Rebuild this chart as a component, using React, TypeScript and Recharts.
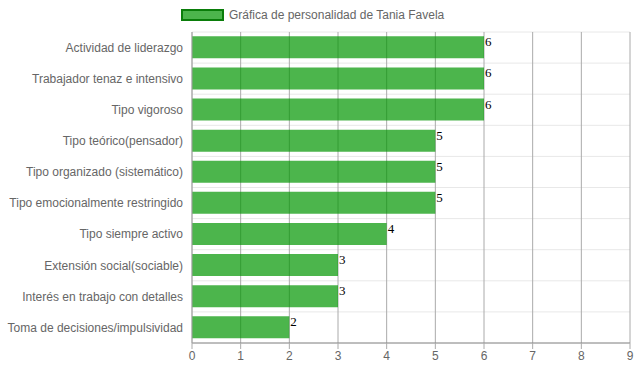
import React from "react";
import { BarChart, Bar, XAxis, YAxis, CartesianGrid, LabelList } from "recharts";

const categories = [
  "Actividad de liderazgo",
  "Trabajador tenaz e intensivo",
  "Tipo vigoroso",
  "Tipo teórico(pensador)",
  "Tipo organizado (sistemático)",
  "Tipo emocionalmente restringido",
  "Tipo siempre activo",
  "Extensión social(sociable)",
  "Interés en trabajo con detalles",
  "Toma de decisiones/impulsividad",
];
const values = [6, 6, 6, 5, 5, 5, 4, 3, 3, 2];
const xTicks = [0, 1, 2, 3, 4, 5, 6, 7, 8, 9];
const seriesName = "Gráfica de personalidad de Tania Favela";

const data = categories.map((name, i) => ({ name, value: values[i] }));

const FONT = "Arial, 'Liberation Sans', Helvetica, sans-serif";

const ValueLabel = (props: any) => {
  const { x, y, width, value } = props;
  return (
    <text
      x={x + width + 1}
      y={y + 10}
      fontFamily="'Liberation Serif', 'Times New Roman', serif"
      fontSize={13}
      fill="#000"
    >
      {value}
    </text>
  );
};

const CategoryTick = (props: any) => {
  const { x, y, payload } = props;
  return (
    <text
      x={x}
      y={y}
      dy="0.355em"
      textAnchor="end"
      fontFamily={FONT}
      fontSize={12}
      fill="#666"
    >
      {payload.value}
    </text>
  );
};

export default function App() {
  const n = categories.length;
  return (
    <div style={{ position: "absolute", left: 0, top: 0, width: 637, height: 371, background: "#fff" }}>
      <div
        style={{
          position: "absolute",
          left: 181,
          top: 9,
          display: "flex",
          alignItems: "center",
          fontFamily: FONT,
          fontSize: 12,
          color: "#666",
          whiteSpace: "nowrap",
        }}
      >
        <span
          style={{
            display: "inline-block",
            width: 39,
            height: 8,
            background: "rgba(0,150,0,0.7)",
            border: "2px solid #0a7d0a",
            marginRight: 5,
          }}
        />
        <span style={{ lineHeight: "12px" }}>{seriesName}</span>
      </div>
      <BarChart
        width={637}
        height={371}
        data={data}
        layout="vertical"
        margin={{ top: 32, right: 7, bottom: 0, left: 0 }}
        barCategoryGap="14%"
      >
        <CartesianGrid
          vertical={false}
          stroke="#e8e8e8"
          horizontalCoordinatesGenerator={({ offset }: any) =>
            Array.from({ length: n + 1 }, (_, i) => offset.top + (i * offset.height) / n)
          }
        />
        <CartesianGrid horizontal={false} stroke="#aaaaaa" />
        <XAxis
          type="number"
          domain={[0, 9]}
          ticks={xTicks}
          interval={0}
          height={28}
          tick={{ fill: "#666", fontSize: 12, fontFamily: FONT }}
          tickLine={{ stroke: "#aaaaaa" }}
          tickSize={6}
          tickMargin={2}
          axisLine={{ stroke: "#888" }}
        />
        <YAxis
          type="category"
          dataKey="name"
          width={192}
          tick={<CategoryTick />}
          tickLine={false}
          tickSize={6}
          tickMargin={3}
          axisLine={{ stroke: "#aaaaaa" }}
          interval={0}
        />
        <Bar dataKey="value" fill="rgba(0,150,0,0.7)" isAnimationActive={false}>
          <LabelList dataKey="value" content={<ValueLabel />} />
        </Bar>
      </BarChart>
    </div>
  );
}
